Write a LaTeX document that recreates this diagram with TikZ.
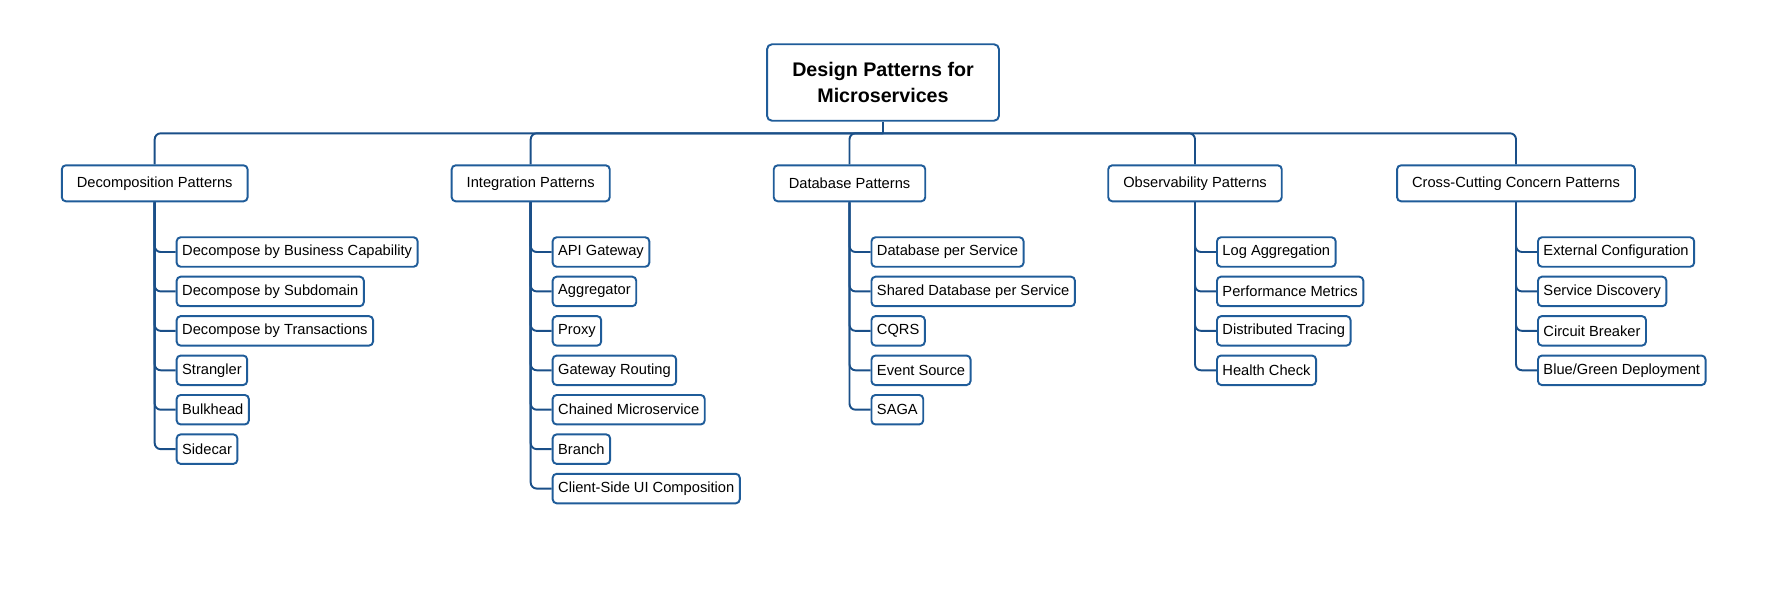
\documentclass[tikz,border=0pt]{standalone}
\usepackage{fontspec}
\setmainfont{Liberation Sans}
\usepackage{xcolor}
\usepackage{tikz}
\usetikzlibrary{positioning}
\definecolor{boxblue}{HTML}{1F5C99}
\definecolor{lineblue}{HTML}{1A4F88}

\begin{document}
\begin{tikzpicture}[x=0.02cm,y=-0.02cm,
	root/.style={draw=boxblue,line width=1.1pt,rounded corners=0.1cm,fill=white,minimum width=4.64cm,minimum height=1.53cm,align=center,font=\fontsize{11.2}{14.8}\selectfont\bfseries},
	group/.style={draw=boxblue,line width=1.1pt,rounded corners=0.08cm,fill=white,minimum height=0.72cm,inner xsep=0.3cm,font=\fontsize{8.35}{10}\selectfont},
	item/.style={draw=boxblue,line width=1.1pt,rounded corners=0.08cm,fill=white,minimum height=0.59cm,inner xsep=0.11cm,inner ysep=0pt,font=\fontsize{8.35}{10}\selectfont},
	link/.style={draw=lineblue,line width=1.1pt,rounded corners=0.12cm}]
	\useasboundingbox (0,0) rectangle (1767,600);

	\node[root] (root) at (883,82.5) {Design Patterns for\\Microservices};
	\coordinate (bus) at (883,133.3);

	\node[group] (decomp) at (154.7,183.3) {Decomposition Patterns};
	\node[group] (integ) at (530.7,183.3) {Integration Patterns};
	\node[group] (datab) at (849.5,183.3) {Database Patterns};
	\node[group] (observ) at (1195,183.3) {Observability Patterns};
	\node[group] (cross) at (1516,183.3) {Cross-Cutting Concern Patterns};

	\node[item,anchor=west] (decomp1) at (175.7,252) {Decompose by Business Capability};
	\node[item,below=0.16cm of decomp1.south west,anchor=north west] (decomp2) {Decompose by Subdomain};
	\node[item,below=0.16cm of decomp2.south west,anchor=north west] (decomp3) {Decompose by Transactions};
	\node[item,below=0.16cm of decomp3.south west,anchor=north west] (decomp4) {Strangler};
	\node[item,below=0.16cm of decomp4.south west,anchor=north west] (decomp5) {Bulkhead};
	\node[item,below=0.16cm of decomp5.south west,anchor=north west] (decomp6) {Sidecar};

	\node[item,anchor=west] (integ1) at (551.7,252) {API Gateway};
	\node[item,below=0.16cm of integ1.south west,anchor=north west] (integ2) {Aggregator};
	\node[item,below=0.16cm of integ2.south west,anchor=north west] (integ3) {Proxy};
	\node[item,below=0.16cm of integ3.south west,anchor=north west] (integ4) {Gateway Routing};
	\node[item,below=0.16cm of integ4.south west,anchor=north west] (integ5) {Chained Microservice};
	\node[item,below=0.16cm of integ5.south west,anchor=north west] (integ6) {Branch};
	\node[item,below=0.16cm of integ6.south west,anchor=north west] (integ7) {Client-Side UI Composition};

	\node[item,anchor=west] (datab1) at (870.5,252) {Database per Service};
	\node[item,below=0.16cm of datab1.south west,anchor=north west] (datab2) {Shared Database per Service};
	\node[item,below=0.16cm of datab2.south west,anchor=north west] (datab3) {CQRS};
	\node[item,below=0.16cm of datab3.south west,anchor=north west] (datab4) {Event Source};
	\node[item,below=0.16cm of datab4.south west,anchor=north west] (datab5) {SAGA};

	\node[item,anchor=west] (observ1) at (1216,252) {Log Aggregation};
	\node[item,below=0.16cm of observ1.south west,anchor=north west] (observ2) {Performance Metrics};
	\node[item,below=0.16cm of observ2.south west,anchor=north west] (observ3) {Distributed Tracing};
	\node[item,below=0.16cm of observ3.south west,anchor=north west] (observ4) {Health Check};

	\node[item,anchor=west] (cross1) at (1537,252) {External Configuration};
	\node[item,below=0.16cm of cross1.south west,anchor=north west] (cross2) {Service Discovery};
	\node[item,below=0.16cm of cross2.south west,anchor=north west] (cross3) {Circuit Breaker};
	\node[item,below=0.16cm of cross3.south west,anchor=north west] (cross4) {Blue/Green Deployment};

	\draw[link] (root.south) -- (bus);
	\draw[link] (bus) -| (decomp.north);
	\draw[link] (bus) -| (integ.north);
	\draw[link] (bus) -| (datab.north);
	\draw[link] (bus) -| (observ.north);
	\draw[link] (bus) -| (cross.north);

	\draw[link] (decomp.south) |- (decomp1.west);
	\draw[link] (decomp.south) |- (decomp2.west);
	\draw[link] (decomp.south) |- (decomp3.west);
	\draw[link] (decomp.south) |- (decomp4.west);
	\draw[link] (decomp.south) |- (decomp5.west);
	\draw[link] (decomp.south) |- (decomp6.west);

	\draw[link] (integ.south) |- (integ1.west);
	\draw[link] (integ.south) |- (integ2.west);
	\draw[link] (integ.south) |- (integ3.west);
	\draw[link] (integ.south) |- (integ4.west);
	\draw[link] (integ.south) |- (integ5.west);
	\draw[link] (integ.south) |- (integ6.west);
	\draw[link] (integ.south) |- (integ7.west);

	\draw[link] (datab.south) |- (datab1.west);
	\draw[link] (datab.south) |- (datab2.west);
	\draw[link] (datab.south) |- (datab3.west);
	\draw[link] (datab.south) |- (datab4.west);
	\draw[link] (datab.south) |- (datab5.west);

	\draw[link] (observ.south) |- (observ1.west);
	\draw[link] (observ.south) |- (observ2.west);
	\draw[link] (observ.south) |- (observ3.west);
	\draw[link] (observ.south) |- (observ4.west);

	\draw[link] (cross.south) |- (cross1.west);
	\draw[link] (cross.south) |- (cross2.west);
	\draw[link] (cross.south) |- (cross3.west);
	\draw[link] (cross.south) |- (cross4.west);
\end{tikzpicture}
\end{document}
